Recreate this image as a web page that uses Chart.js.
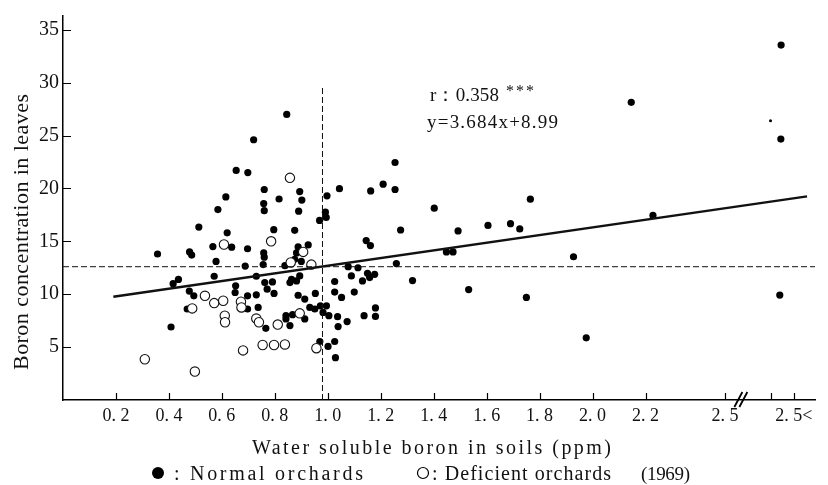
<!DOCTYPE html>
<html>
<head>
<meta charset="utf-8">
<script src="https://cdn.jsdelivr.net/npm/chart.js@4.4.1/dist/chart.umd.min.js"></script>
<style>
  body { margin: 0; background: #fff; }
  canvas { display: block; }
</style>
</head>
<body>
<canvas id="boronChart" width="828" height="485"></canvas>
<script>
const normalOrchards = [
  [0.357, 13.8], [0.408, 6.9], [0.416, 11.0], [0.436, 11.4], [0.469, 8.6], [0.477, 10.3], [0.478, 14.0],
  [0.486, 13.7], [0.494, 9.85], [0.513, 16.35], [0.566, 14.5], [0.571, 11.7], [0.578, 13.1], [0.585, 18.0],
  [0.615, 19.2], [0.62, 15.8], [0.637, 14.45], [0.65, 10.16], [0.652, 10.8], [0.654, 21.7], [0.688, 12.66],
  [0.697, 14.3], [0.697, 9.85], [0.697, 8.6], [0.698, 21.5], [0.72, 24.6], [0.73, 11.7], [0.73, 9.94],
  [0.737, 8.75], [0.756, 12.8], [0.758, 13.9], [0.76, 13.5], [0.758, 18.57], [0.76, 17.9], [0.76, 19.9],
  [0.762, 11.1], [0.766, 6.78], [0.771, 10.48], [0.791, 11.16], [0.796, 16.1], [0.797, 10.07], [0.816, 19.0],
  [0.838, 12.7], [0.842, 7.97], [0.842, 7.66], [0.845, 27.0], [0.857, 11.1], [0.857, 7.04], [0.863, 11.4],
  [0.867, 8.07], [0.875, 16.04], [0.875, 13.3], [0.882, 13.9], [0.882, 11.26], [0.888, 14.47], [0.888, 9.9],
  [0.89, 17.85], [0.894, 19.7], [0.894, 11.73], [0.9, 13.1], [0.902, 18.9], [0.913, 9.54], [0.913, 7.66],
  [0.926, 14.66], [0.932, 8.75], [0.951, 8.6], [0.953, 10.07], [0.969, 16.98], [0.97, 5.53], [0.972, 8.9],
  [0.982, 8.28], [0.991, 17.76], [0.994, 17.26], [0.995, 8.9], [0.997, 19.3], [1.001, 5.06], [1.004, 7.97],
  [1.026, 11.2], [1.026, 10.2], [1.026, 5.53], [1.029, 4.0], [1.037, 7.88], [1.039, 6.94], [1.044, 19.98],
  [1.052, 9.7], [1.073, 7.41], [1.077, 12.6], [1.089, 11.73], [1.1, 10.2], [1.114, 12.5], [1.131, 11.26],
  [1.137, 7.97], [1.145, 15.07], [1.15, 11.98], [1.158, 11.57], [1.161, 14.6], [1.162, 19.76], [1.177, 11.88],
  [1.18, 8.7], [1.18, 7.9], [1.209, 20.4], [1.254, 19.9], [1.254, 22.45], [1.259, 12.9], [1.275, 16.07],
  [1.32, 11.29], [1.402, 18.13], [1.448, 14.0], [1.473, 14.0], [1.492, 15.98], [1.532, 10.44], [1.605, 16.5],
  [1.69, 16.67], [1.725, 16.17], [1.75, 9.7], [1.765, 18.98], [1.928, 13.54], [1.976, 5.88], [2.146, 28.14],
  [2.228, 17.45], [2.711, 24.67], [2.712, 33.55], [2.707, 9.92]
];
const deficientOrchards = [
  [0.309, 3.85], [0.488, 8.66], [0.498, 2.69], [0.536, 9.85], [0.571, 9.16], [0.605, 9.38], [0.608, 14.7],
  [0.611, 7.97], [0.612, 7.35], [0.672, 9.29], [0.674, 8.75], [0.68, 4.69], [0.73, 7.7], [0.74, 7.35],
  [0.754, 5.2], [0.786, 15.0], [0.797, 5.2], [0.811, 7.13], [0.838, 5.25], [0.857, 21.0], [0.86, 13.0],
  [0.894, 8.19], [0.907, 14.0], [0.938, 12.8], [0.957, 4.9]
];
const strayMarks = [[2.672, 26.4]];

const regressionX = [0.19, 2.81];
const regressionY = [9.75, 19.25];
const meanX = [0.98, 0.98];
const meanXSpanY = [0, 29.6];
const meanY = [12.6, 12.6];
const meanYSpanX = [0, 2.84];

const xTickValues = [0.2, 0.4, 0.6, 0.8, 1.0, 1.2, 1.4, 1.6, 1.8, 2.0, 2.2, 2.5, 2.675, 2.76];
const xTickLabels = ['0. 2', '0. 4', '0. 6', '0. 8', '1. 0', '1. 2', '1. 4', '1. 6', '1. 8', '2. 0', '2. 2', '2. 5', '', '2. 5<'];
const yTickValues = [5, 10, 15, 20, 25, 30, 35];
const axisBreakX = 2.56;

const serif = '"Liberation Serif", "Noto Serif", serif';

function toPoints(pairs) {
  return pairs.map(([x, y]) => ({ x, y }));
}

function zipPoints(xs, ys) {
  return xs.map((x, i) => ({ x, y: ys[i] }));
}

function spacedText(ctx, text, left, base, width) {
  ctx.letterSpacing = '0px';
  const w = ctx.measureText(text).width;
  const n = [...text].length;
  const gap = n > 1 ? (width - w) / (n - 1) : 0;
  ctx.letterSpacing = gap + 'px';
  ctx.textAlign = 'left';
  ctx.fillText(text, left, base);
  ctx.letterSpacing = '0px';
}

const decorations = {
  id: 'decorations',
  afterDraw(chart) {
    const { ctx, scales: { x, y } } = chart;
    ctx.save();
    ctx.strokeStyle = '#000';
    ctx.fillStyle = '#111';
    ctx.lineWidth = 1.2;

    ctx.beginPath();
    x.ticks.forEach((t) => {
      const px = Math.round(x.getPixelForValue(t.value)) + 0.5;
      ctx.moveTo(px, y.bottom);
      ctx.lineTo(px, y.bottom - 7);
    });
    y.ticks.forEach((t) => {
      const py = Math.round(y.getPixelForValue(t.value)) + 0.5;
      ctx.moveTo(x.left, py);
      ctx.lineTo(x.left + 8, py);
    });
    ctx.stroke();

    const bx = x.getPixelForValue(axisBreakX);
    ctx.lineWidth = 1.8;
    ctx.beginPath();
    [-2.5, 2.5].forEach((d) => {
      ctx.moveTo(bx + d - 4, y.bottom + 7);
      ctx.lineTo(bx + d + 4, y.bottom - 8);
    });
    ctx.stroke();

    ctx.textBaseline = 'alphabetic';
    ctx.font = '19px ' + serif;
    spacedText(ctx, 'r：0.358', 430, 101, 69);
    ctx.font = '16px ' + serif;
    spacedText(ctx, '***', 506, 96, 28);
    ctx.font = '19px ' + serif;
    spacedText(ctx, 'y=3.684x+8.99', 427, 128, 131);

    ctx.font = '20px ' + serif;
    spacedText(ctx, 'Water soluble boron in soils (ppm)', 252, 454, 359);

    ctx.save();
    ctx.translate(28, 232);
    ctx.rotate(-Math.PI / 2);
    ctx.font = '22px ' + serif;
    spacedText(ctx, 'Boron concentration in leaves', -138, 0, 276);
    ctx.restore();

    ctx.beginPath();
    ctx.arc(158, 473, 6, 0, Math.PI * 2);
    ctx.fillStyle = '#000';
    ctx.fill();
    ctx.beginPath();
    ctx.lineWidth = 1.2;
    ctx.arc(423, 473, 5.5, 0, Math.PI * 2);
    ctx.stroke();
    ctx.fillStyle = '#111';
    ctx.font = '20px ' + serif;
    spacedText(ctx, ': Normal orchards', 174, 480, 189);
    spacedText(ctx, ': Deficient orchards', 432, 480, 179);
    ctx.font = '19px ' + serif;
    spacedText(ctx, '(1969)', 641, 480, 49);
    ctx.restore();
  }
};

function lineSet(data, width, dash) {
  return {
    type: 'line',
    data,
    showLine: true,
    fill: false,
    borderColor: '#111',
    borderWidth: width,
    borderDash: dash,
    pointRadius: 0,
    order: 0
  };
}

new Chart(document.getElementById('boronChart'), {
  type: 'scatter',
  data: {
    datasets: [
      {
        label: 'Deficient orchards',
        data: toPoints(deficientOrchards),
        pointRadius: 4.7,
        pointBackgroundColor: '#fff',
        pointBorderColor: '#111',
        pointBorderWidth: 1.1,
        order: 1
      },
      {
        label: 'Normal orchards',
        data: toPoints(normalOrchards),
        pointRadius: 3.6,
        pointBackgroundColor: '#000',
        pointBorderColor: '#000',
        pointBorderWidth: 0,
        order: 2
      },
      {
        label: 'stray',
        data: toPoints(strayMarks),
        pointRadius: 1.5,
        pointBackgroundColor: '#000',
        pointBorderWidth: 0,
        order: 3
      },
      lineSet(zipPoints(regressionX, regressionY), 2.5, []),
      lineSet(zipPoints(meanX, meanXSpanY), 1, [6, 3]),
      lineSet(zipPoints(meanYSpanX, meanY), 1, [6, 3])
    ]
  },
  options: {
    responsive: false,
    animation: false,
    devicePixelRatio: 1,
    layout: { padding: { left: 0, right: 13, top: 13, bottom: 0 } },
    plugins: { legend: { display: false }, tooltip: { enabled: false } },
    scales: {
      x: {
        type: 'linear',
        min: 0,
        max: 2.84,
        afterFit: (s) => { s.height = 85; },
        afterBuildTicks: (s) => { s.ticks = xTickValues.map((value) => ({ value })); },
        grid: { display: false, drawTicks: false },
        border: { color: '#000', width: 1.5 },
        ticks: {
          autoSkip: false,
          maxRotation: 0,
          padding: 5,
          color: '#111',
          font: { family: serif, size: 18 },
          callback: (value, index) => xTickLabels[index]
        }
      },
      y: {
        min: 0,
        max: 36.3,
        afterFit: (s) => { s.width = 63; },
        afterBuildTicks: (s) => { s.ticks = yTickValues.map((value) => ({ value })); },
        grid: { display: false, drawTicks: false },
        border: { color: '#000', width: 1.5 },
        ticks: {
          padding: 4,
          color: '#111',
          font: { family: serif, size: 20 },
          callback: (value) => String(value)
        }
      }
    }
  },
  plugins: [decorations]
});
</script>
</body>
</html>
